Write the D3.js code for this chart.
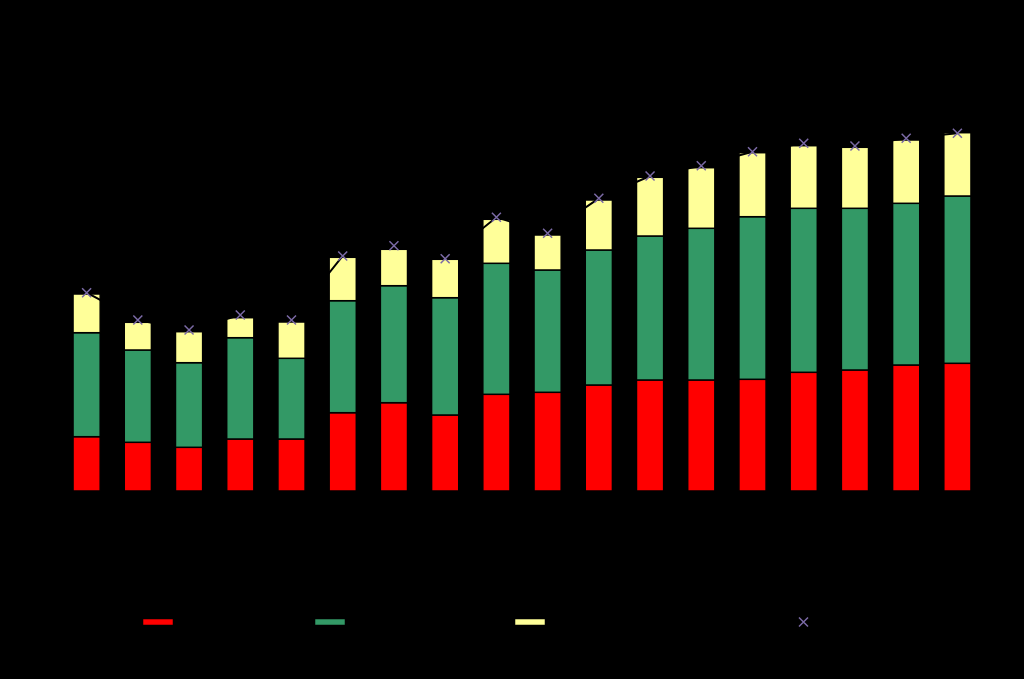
<!DOCTYPE html>
<html>
<head>
<meta charset="utf-8">
<script src="https://cdn.jsdelivr.net/npm/d3@7"></script>
<style>
  html, body { margin: 0; padding: 0; background: #000; }
  svg { display: block; }
  text { font-family: "Liberation Sans", Arial, sans-serif; }
</style>
</head>
<body>
<svg id="chart" width="1024" height="679"></svg>
<script>
const categories = ["2000","2001","2002","2003","2004","2005","2006","2007","2008","2009","2010","2011","2012","2013","2014","2015","2016","2017"];
const seriesNames = ["Series A", "Series B", "Series C", "Total"];
const seriesA = [54.3, 48.7, 43.7, 52, 52, 78.3, 88.3, 76, 96.7, 98.7, 106, 111, 111, 111.7, 118.7, 121, 126, 127.7];
const seriesB = [104, 92.3, 84.6, 101.3, 80.7, 112, 117, 117.3, 131, 122.3, 135, 144, 151.7, 162.6, 164, 161.7, 161.7, 167.3];
const seriesC = [38.7, 27.7, 31, 20, 36.3, 43.4, 36.4, 38.4, 44, 35, 50, 58.7, 60.6, 64, 62.6, 61, 63.3, 63.3];
const totals  = [198.3, 171, 161, 176, 171, 235, 245.3, 232.3, 273.7, 257.7, 292.7, 315, 325.3, 339.3, 347.7, 345, 352.7, 357.7];
const yTicks = [0, 50, 100, 150, 200, 250, 300, 350, 400, 450];
const colors = ["#ff0000", "#339966", "#ffff99"];
const markerColor = "#7b6aa6";

const svg = d3.select("#chart");
const W = 1024, H = 679;
svg.append("rect").attr("width", W).attr("height", H).attr("fill", "#000");

const x = d3.scaleBand().domain(categories).range([61, 983]).paddingInner(0.47).paddingOuter(0.235);
const y = d3.scaleLinear().domain([0, 450]).range([491, 41]);

const rows = categories.map((c, i) => ({cat: c, a: seriesA[i], b: seriesB[i], c: seriesC[i]}));
const stack = d3.stack().keys(["a", "b", "c"])(rows);

// axes (black on black, as in the reference)
svg.append("g").attr("transform", "translate(61,0)")
  .call(d3.axisLeft(y).tickValues(yTicks))
  .call(g => g.selectAll("line,path").attr("stroke", "#000"))
  .call(g => g.selectAll("text").attr("fill", "#000").attr("font-size", 12));
svg.append("g").attr("transform", "translate(0,491)")
  .call(d3.axisBottom(x))
  .call(g => g.selectAll("line,path").attr("stroke", "#000"))
  .call(g => g.selectAll("text").attr("fill", "#000").attr("font-size", 12));

// bars
stack.forEach((layer, li) => {
  svg.append("g").selectAll("rect").data(layer).join("rect")
    .attr("x", d => x(d.data.cat))
    .attr("width", x.bandwidth())
    .attr("y", d => y(d[1]))
    .attr("height", d => y(d[0]) - y(d[1]))
    .attr("fill", colors[li])
    .attr("stroke", "#000")
    .attr("stroke-width", 1.5);
});

// total line
const line = d3.line().x((d, i) => x(categories[i]) + x.bandwidth() / 2).y(d => y(d));
svg.append("path").datum(totals).attr("d", line)
  .attr("fill", "none").attr("stroke", "#000").attr("stroke-width", 2);

// markers
const cross = (g, cx, cy, s) => g.append("path")
  .attr("d", `M${cx - s},${cy - s}L${cx + s},${cy + s}M${cx - s},${cy + s}L${cx + s},${cy - s}`)
  .attr("stroke", markerColor).attr("stroke-width", 1.5).attr("fill", "none");
const mg = svg.append("g");
totals.forEach((t, i) => cross(mg, x(categories[i]) + x.bandwidth() / 2, y(t), 4.5));

// legend
const legendX = [143, 315, 515];
const lg = svg.append("g");
colors.forEach((c, i) => {
  lg.append("rect").attr("x", legendX[i]).attr("y", 619).attr("width", 30).attr("height", 6)
    .attr("fill", c).attr("stroke", "#000").attr("stroke-width", 0.5);
  lg.append("text").attr("x", legendX[i] + 36).attr("y", 626).attr("fill", "#000")
    .attr("font-size", 13).text(seriesNames[i]);
});
cross(lg, 803.5, 622, 4.5);
lg.append("text").attr("x", 812).attr("y", 626).attr("fill", "#000").attr("font-size", 13).text(seriesNames[3]);
</script>
</body>
</html>
